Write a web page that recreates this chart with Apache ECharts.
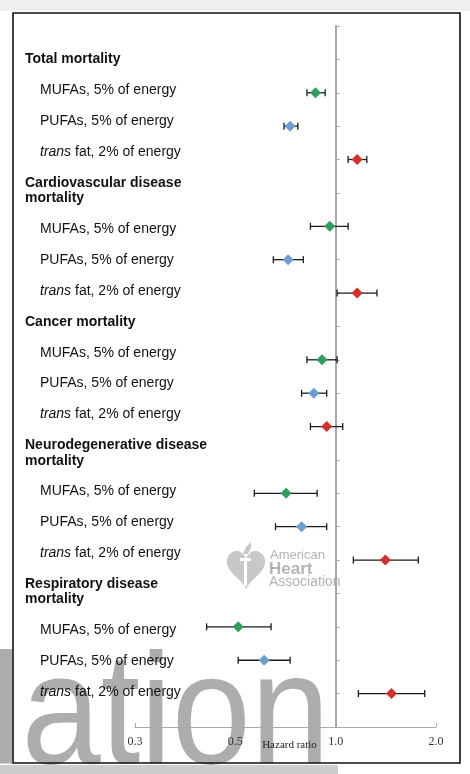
<!DOCTYPE html>
<html><head><meta charset="utf-8">
<script src="https://cdn.jsdelivr.net/npm/echarts@6/dist/echarts.min.js"></script>
<style>html,body{margin:0;padding:0;background:#fff;}#c{width:470px;height:774px;}</style>
</head><body><div id="c"></div>
<script>
// ---- data ----
const groups = ['Total mortality', 'Cardiovascular disease\nmortality', 'Cancer mortality', 'Neurodegenerative disease\nmortality', 'Respiratory disease\nmortality'];
const exposures = ['MUFAs, 5% of energy', 'PUFAs, 5% of energy', 'trans fat, 2% of energy'];
const mufaHR   = [0.87, 0.96, 0.91, 0.71, 0.51];
const mufaLow  = [0.82, 0.84, 0.82, 0.57, 0.41];
const mufaHigh = [0.93, 1.09, 1.01, 0.88, 0.64];
const pufaHR   = [0.73, 0.72, 0.86, 0.79, 0.61];
const pufaLow  = [0.70, 0.65, 0.79, 0.66, 0.51];
const pufaHigh = [0.77, 0.80, 0.94, 0.94, 0.73];
const transHR   = [1.16, 1.16, 0.94, 1.41, 1.47];
const transLow  = [1.09, 1.01, 0.84, 1.13, 1.17];
const transHigh = [1.24, 1.33, 1.05, 1.77, 1.85];
const xTicks = [0.25, 0.5, 1, 2];
const xTickLabels = ['0.3', '0.5', '1.0', '2.0'];
const xName = 'Hazard ratio';

// ---- layout ----
const W = 470, H = 774;
const G = {left: 135, right: 34, top: 26, bottom: 47};
const gridW = W - G.left - G.right;
const xMin = xTicks[0], xMax = xTicks[xTicks.length - 1];
const refOffset = -gridW * (Math.log2(1) - Math.log2(xMin)) / (Math.log2(xMax) - Math.log2(xMin));
const nRows = groups.length * 4 + 1;
const colors = ['#2e9e5b', '#6b9fd1', '#d7302a'];
const hr = [mufaHR, pufaHR, transHR], lo = [mufaLow, pufaLow, transLow], hi = [mufaHigh, pufaHigh, transHigh];
const rowOf = (g, e) => 2 + 4 * g + e;

const series = [];
exposures.forEach((name, e) => {
  series.push({
    type: 'custom', name: name + ' CI', z: 3,
    encode: {x: [0, 1], y: 2},
    data: groups.map((_, g) => [lo[e][g], hi[e][g], rowOf(g, e)]),
    renderItem: (params, api) => {
      const y = api.value(2);
      const p1 = api.coord([api.value(0), y]);
      const p2 = api.coord([api.value(1), y]);
      const c = 3.5, st = {stroke: '#1a1a1a', lineWidth: 1.3};
      return {type: 'group', children: [
        {type: 'line', shape: {x1: p1[0], y1: p1[1], x2: p2[0], y2: p2[1]}, style: st},
        {type: 'line', shape: {x1: p1[0], y1: p1[1] - c, x2: p1[0], y2: p1[1] + c}, style: st},
        {type: 'line', shape: {x1: p2[0], y1: p2[1] - c, x2: p2[0], y2: p2[1] + c}, style: st}
      ]};
    }
  });
  series.push({
    type: 'scatter', name: name, z: 5,
    symbol: 'diamond', symbolSize: 11,
    itemStyle: {color: colors[e], opacity: 1},
    data: groups.map((_, g) => [hr[e][g], rowOf(g, e)])
  });
});

// ---- left text column (slots) ----
const L = 15.43, firstY = 59.5;
const headSlots = [], itemSlots = [];
groups.forEach(gName => {
  gName.split('\n').forEach(t => { headSlots.push(t); itemSlots.push(''); });
  headSlots.push(''); itemSlots.push('');
  exposures.forEach(ex => { headSlots.push(''); itemSlots.push(ex); headSlots.push(''); itemSlots.push(''); });
});
const itemRich = itemSlots.map(t => {
  if (!t) return '{n| }';
  if (t.startsWith('trans ')) return '{it|trans}{n|' + t.slice(5) + '}';
  return '{n|' + t + '}';
}).join('\n');
const FF = '"Liberation Sans", Arial, sans-serif';
const SERIF = '"Liberation Serif", "Times New Roman", serif';

// heart outline for the logo watermark (geometry only)
const heartPts = [];
for (let i = 0; i < 60; i++) {
  const t = i / 60 * Math.PI * 2;
  const hx = 16 * Math.pow(Math.sin(t), 3);
  const hy = 13 * Math.cos(t) - 5 * Math.cos(2 * t) - 2 * Math.cos(3 * t) - Math.cos(4 * t);
  heartPts.push([246 + hx * 1.2, 567 - hy * 1.35]);
}

const chart = echarts.init(document.getElementById('c'), null, {renderer: 'canvas'});
chart.setOption({
  animation: false,
  backgroundColor: '#ffffff',
  grid: Object.assign({containLabel: false}, G),
  xAxis: {
    type: 'log', logBase: 2, min: xMin, max: xMax,
    axisLine: {onZero: false, lineStyle: {color: '#a9a9a9', width: 1}},
    axisTick: {inside: true, length: 4, lineStyle: {color: '#a9a9a9'}},
    minorTick: {show: false}, splitLine: {show: false},
    axisLabel: {margin: 9, color: '#333', fontFamily: SERIF, fontSize: 12,
      formatter: v => { const i = xTicks.findIndex(t => Math.abs(t - v) < 1e-6); return i < 0 ? '' : xTickLabels[i]; }},
    name: xName, nameLocation: 'middle', nameGap: 13, nameMoveOverlap: false,
    nameTextStyle: {color: '#222', fontFamily: SERIF, fontSize: 11, padding: [0, 0, 0, 8]}
  },
  yAxis: {
    type: 'value', min: 0, max: nRows, interval: 1, inverse: true,
    position: 'left', offset: refOffset,
    axisLine: {show: true, onZero: false, lineStyle: {color: '#a8a8a8', width: 2}},
    axisTick: {show: true, inside: true, length: 4, lineStyle: {color: '#a8a8a8', width: 1}},
    axisLabel: {show: false}, splitLine: {show: false}
  },
  series: series,
  graphic: [
    {type: 'rect', z: -2, shape: {x: 0, y: 0, width: W, height: 11}, style: {fill: '#efefef'}},
    // bottom page band and big background watermark
    {type: 'rect', z: -2, shape: {x: 0, y: 765, width: 338, height: 9}, style: {fill: '#cdcdcd'}},
    {type: 'text', z: -1, x: -10, y: 798, scaleX: 0.9,
      style: {text: 'lation', font: '158px ' + FF, fill: '#adadad', verticalAlign: 'bottom'}},
    {type: 'rect', z: 1, shape: {x: 13, y: 13, width: 447, height: 750}, style: {fill: 'none', stroke: '#111', lineWidth: 1.6}},
    {type: 'text', z: 10, x: 25, y: firstY - L / 2,
      style: {text: headSlots.join('\n'), font: 'bold 14px ' + FF, fill: '#111', lineHeight: L, verticalAlign: 'top'}},
    {type: 'text', z: 10, x: 40, y: firstY - L / 2,
      style: {text: itemRich, fill: '#111', lineHeight: L, verticalAlign: 'top', font: '14px ' + FF,
        rich: {n: {font: '14px ' + FF, fill: '#111', lineHeight: L, verticalAlign: 'middle'}, it: {font: 'italic 14px ' + FF, fill: '#111', lineHeight: L, verticalAlign: 'middle'}}}},
    // AHA logo watermark
    {type: 'polygon', z: 0, shape: {points: heartPts}, style: {fill: '#c8c8c8'}},
    {type: 'rect', z: 0, shape: {x: 244, y: 558, width: 3, height: 28}, style: {fill: '#fff'}},
    {type: 'rect', z: 0, shape: {x: 240, y: 558, width: 11, height: 3}, style: {fill: '#fff'}},
    {type: 'polygon', z: 0, shape: {points: [[243, 554], [246, 547], [251, 542], [251, 548], [248, 554]]}, style: {fill: '#c8c8c8'}},
    {type: 'text', z: 0, x: 270, y: 555, style: {text: 'American', font: '13px ' + FF, fill: '#b4b4b4', verticalAlign: 'middle'}},
    {type: 'text', z: 0, x: 269, y: 569, style: {text: 'Heart', font: 'bold 17px ' + FF, fill: '#b4b4b4', verticalAlign: 'middle'}},
    {type: 'text', z: 0, x: 269, y: 582, style: {text: 'Association', font: '14px ' + FF, fill: '#b4b4b4', verticalAlign: 'middle'}}
  ]
});
</script>
</body></html>
